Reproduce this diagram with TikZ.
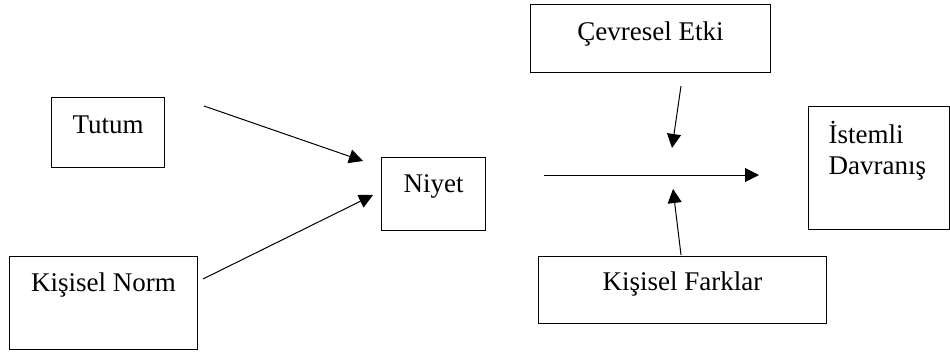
\documentclass[tikz,border=0pt]{standalone}
\usepackage{fontspec}
\setmainfont{Liberation Serif}
\usetikzlibrary{arrows.meta}
\tikzset{
  box/.style  ={draw, line width=1.1pt, anchor=north west, inner sep=0pt,
                font=\fontsize{27}{31}\selectfont, text height=19pt},
  flow/.style ={-{Triangle[length=14pt,width=14pt]}, line width=1pt},
}

\begin{document}
\begin{tikzpicture}[x=1pt, y=-1pt]
\useasboundingbox (0,0) rectangle (950,351);

\node[box, minimum width=113pt, minimum height=70pt, text depth=17pt] (tutum) at (51,97) {Tutum};
\node[box, minimum width=188pt, minimum height=93pt, text depth=42pt] (norm) at (9,256) {Kişisel Norm};
\node[box, minimum width=104pt, minimum height=73pt, text depth=22pt] (niyet) at (381,157) {Niyet};
\node[box, minimum width=240pt, minimum height=68pt, text depth=15pt] (cevre) at (530,4) {Çevresel Etki};
\node[box, minimum width=288pt, minimum height=67pt, text depth=18pt] (fark) at (538,256) {Kişisel Farklar};
\node[box, minimum width=141pt, minimum height=123pt, text depth=68pt,
      align=left, text width=101pt] (istem) at (808,106) {İstemli\\Davranış};

% free ends of the arrows
\coordinate (tutumout) at (204,106);
\coordinate (niyetin1) at (363,161);
\coordinate (normout)  at (203,279);
\coordinate (niyetin2) at (373,195);
\coordinate (niyetout) at (544,175);
\coordinate (istemin)  at (759,175);
\coordinate (cevreout) at (681,86);
\coordinate (cevrein)  at (672,148);
\coordinate (farkout)  at (681,255);
\coordinate (farkin)   at (673,189);

\draw[flow] (tutumout) -- (niyetin1);
\draw[flow] (normout) -- (niyetin2);
\draw[flow] (niyetout) -- (istemin);
\draw[flow] (cevreout) -- (cevrein);
\draw[flow] (farkout) -- (farkin);

\end{tikzpicture}
\end{document}
